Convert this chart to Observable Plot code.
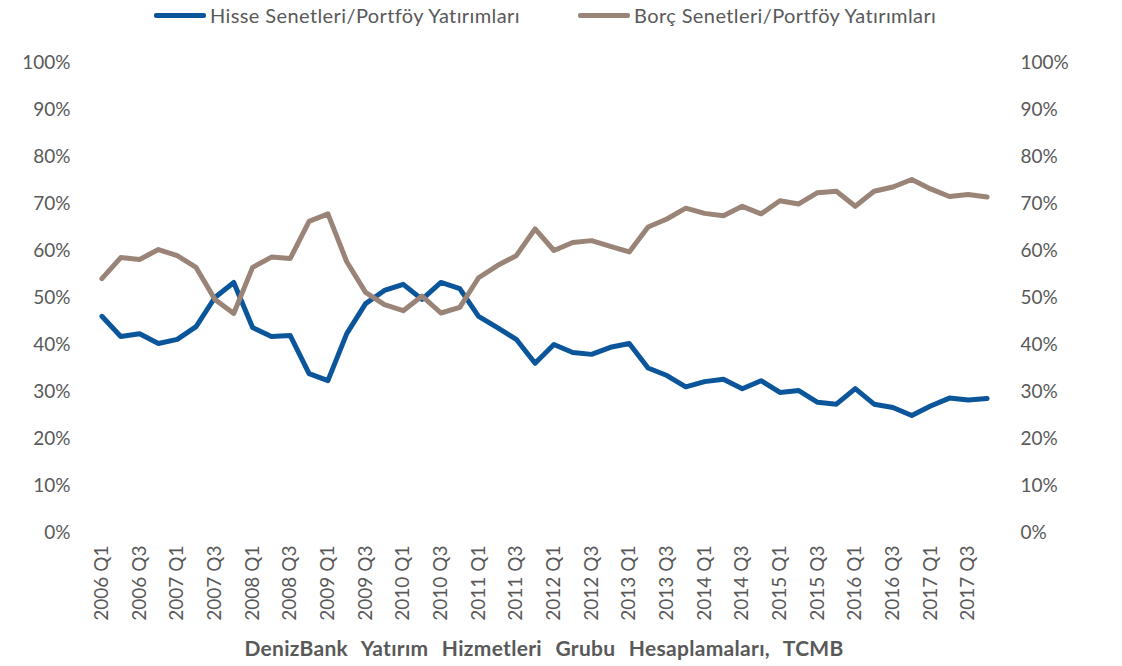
<!DOCTYPE html>
<html>
<head>
<meta charset="utf-8">
<script src="https://cdn.jsdelivr.net/npm/d3@7"></script>
<script src="https://cdn.jsdelivr.net/npm/@observablehq/plot@0.6"></script>
<style>
  html, body { margin: 0; padding: 0; background: #fff; }
  body { width: 1122px; height: 666px; overflow: hidden; font-family: Lato, "Open Sans", sans-serif; color: #595959; }
  #legend { position: relative; height: 30px; width: 1122px; }
  .item { position: absolute; top: 0; height: 30px; display: flex; align-items: center; font-size: 20px; letter-spacing: 0.4px; white-space: nowrap; }
  .sw { display: inline-block; width: 52px; height: 5px; border-radius: 2px; margin-right: 4px; }
  #caption { width: 1088px; text-align: center; font-weight: bold; font-size: 21px; letter-spacing: 0.3px; word-spacing: 8px; margin-top: 5px; }
</style>
</head>
<body>
<div id="legend"></div>
<div id="chart"></div>
<div id="caption">DenizBank Yatırım Hizmetleri Grubu Hesaplamaları, TCMB</div>
<script>
const quarters = [
  "2006 Q1","2006 Q2","2006 Q3","2006 Q4",
  "2007 Q1","2007 Q2","2007 Q3","2007 Q4",
  "2008 Q1","2008 Q2","2008 Q3","2008 Q4",
  "2009 Q1","2009 Q2","2009 Q3","2009 Q4",
  "2010 Q1","2010 Q2","2010 Q3","2010 Q4",
  "2011 Q1","2011 Q2","2011 Q3","2011 Q4",
  "2012 Q1","2012 Q2","2012 Q3","2012 Q4",
  "2013 Q1","2013 Q2","2013 Q3","2013 Q4",
  "2014 Q1","2014 Q2","2014 Q3","2014 Q4",
  "2015 Q1","2015 Q2","2015 Q3","2015 Q4",
  "2016 Q1","2016 Q2","2016 Q3","2016 Q4",
  "2017 Q1","2017 Q2","2017 Q3","2017 Q4"
];
const hisse = [
  46.0,41.7,42.3,40.2, 41.1,43.8,50.0,53.2, 43.6,41.7,41.9,33.8,
  32.3,42.3,48.7,51.5, 52.8,49.6,53.2,51.9, 46.0,43.6,41.1,36.0,
  40.0,38.3,37.9,39.4, 40.2,35.0,33.4,31.0, 32.1,32.6,30.6,32.3,
  29.8,30.2,27.7,27.3, 30.6,27.3,26.6,24.9, 26.9,28.6,28.2,28.5
];
const borc = [
  54.0,58.5,58.1,60.2, 58.9,56.4,49.6,46.6, 56.4,58.6,58.3,66.2,
  67.8,57.6,51.1,48.5, 47.2,50.3,46.7,47.9, 54.2,56.8,58.9,64.6,
  60.0,61.7,62.1,60.9, 59.7,65.0,66.7,69.0, 67.9,67.4,69.4,67.8,
  70.6,69.9,72.3,72.6, 69.4,72.6,73.5,75.1, 73.1,71.5,71.9,71.4
];
const seriesNames = ["Hisse Senetleri/Portföy Yatırımları", "Borç Senetleri/Portföy Yatırımları"];
const seriesColors = ["#0B559B", "#9A8478"];
const yTicks = [0,10,20,30,40,50,60,70,80,90,100];
const xTicks = quarters.filter((q, i) => i % 2 === 0);

const rows = [];
quarters.forEach((q, i) => {
  rows.push({q, v: hisse[i], s: seriesNames[0]});
  rows.push({q, v: borc[i], s: seriesNames[1]});
});

// legend
const legend = document.getElementById("legend");
const legendLeft = [154, 578];
seriesNames.forEach((name, i) => {
  const d = document.createElement("div");
  d.className = "item";
  d.style.left = legendLeft[i] + "px";
  d.innerHTML = `<span class="sw" style="background:${seriesColors[i]}"></span><span>${name}</span>`;
  legend.appendChild(d);
});

const chart = Plot.plot({
  width: 1122,
  height: 600,
  marginLeft: 92,
  marginRight: 126,
  marginTop: 32,
  marginBottom: 98,
  style: { fontFamily: "Lato, 'Open Sans', sans-serif", fontSize: "19px", color: "#595959", background: "#fff" },
  x: { type: "point", domain: quarters, padding: 0.5, label: null },
  y: { domain: [0, 100], label: null },
  color: { domain: seriesNames, range: seriesColors },
  marks: [
    Plot.gridY(yTicks, { stroke: "#d9d9d9", strokeOpacity: 1, strokeWidth: 1.3, x1: 92, x2: 996 }),
    Plot.axisY(yTicks, { anchor: "left", tickSize: 0, tickPadding: 22, tickFormat: d => d + "%", fill: "#595959", label: null }),
    Plot.axisY(yTicks, { anchor: "right", tickSize: 0, tickPadding: 24, tickFormat: d => d + "%", fill: "#595959", label: null }),
    Plot.axisX(xTicks, { tickSize: 0, tickPadding: 13, tickRotate: -90, fill: "#595959", label: null }),
    Plot.line(rows, { x: "q", y: "v", z: "s", stroke: "s", strokeWidth: 5, strokeLinejoin: "round", strokeLinecap: "round" })
  ]
});
document.getElementById("chart").appendChild(chart);
</script>
</body>
</html>
